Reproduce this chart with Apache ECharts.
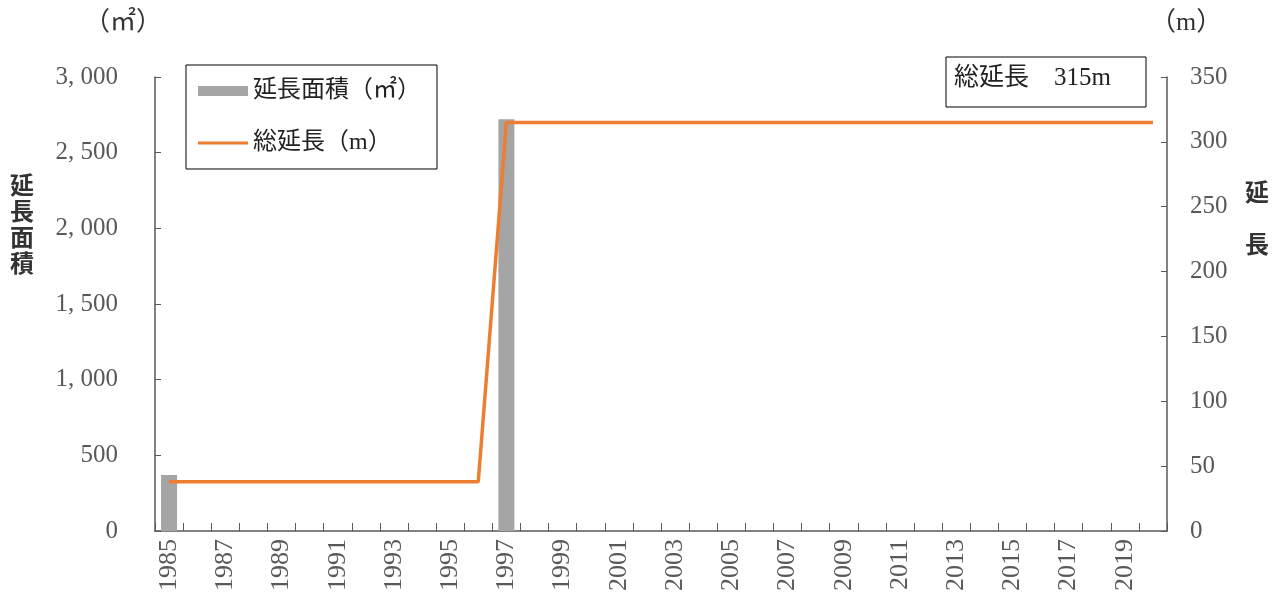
<!DOCTYPE html>
<html>
<head>
<meta charset="utf-8">
<script src="https://cdn.jsdelivr.net/npm/echarts@6/dist/echarts.min.js"></script>
<style>
html,body{margin:0;padding:0;background:#fff;}
#c{width:1282px;height:594px;}
</style>
</head>
<body>
<div id="c"></div>
<script>
const years = [];
for (let y = 1985; y <= 2020; y++) years.push(String(y));
const areaValues = [370,0,0,0,0,0,0,0,0,0,0,0,2720,0,0,0,0,0,0,0,0,0,0,0,0,0,0,0,0,0,0,0,0,0,0,0];
const lengthValues = [38,38,38,38,38,38,38,38,38,38,38,38,315,315,315,315,315,315,315,315,315,315,315,315,315,315,315,315,315,315,315,315,315,315,315,315];
const leftTicks = { min: 0, max: 3000, interval: 500 };
const rightTicks = { min: 0, max: 350, interval: 50 };
const seriesNames = ['延長面積（㎡）', '総延長（m）'];
const boxText = '総延長　315m';

const serif = '"Liberation Serif", "DejaVu Serif", serif';
const mixed = '"Liberation Serif", "Noto Sans CJK JP", serif';
const cjk = '"Noto Sans CJK JP", sans-serif';
const axisGrey = '#595959';

const chart = echarts.init(document.getElementById('c'));
chart.setOption({
  animation: false,
  backgroundColor: '#fff',
  grid: { left: 155, right: 115, top: 77, bottom: 62, containLabel: false },
  legend: {
    left: 186, top: 65, orient: 'vertical',
    padding: [14, 16, 14, 12],
    borderColor: '#000', borderWidth: 1,
    itemWidth: 50, itemHeight: 10, itemGap: 28,
    textStyle: { fontFamily: mixed, fontSize: 24, color: '#222' },
    data: [
      { name: seriesNames[0], icon: 'rect' },
      { name: seriesNames[1], icon: 'path://M0,0H50V3.2H0Z' }
    ]
  },
  xAxis: {
    type: 'category',
    data: years,
    boundaryGap: true,
    axisLine: { lineStyle: { color: axisGrey, width: 1.5 } },
    axisTick: { show: true, inside: true, length: 8, interval: 0, lineStyle: { color: axisGrey } },
    axisLabel: { interval: 1, rotate: 90, margin: 8, fontFamily: serif, fontSize: 26, color: axisGrey }
  },
  yAxis: [
    {
      type: 'value', min: leftTicks.min, max: leftTicks.max, interval: leftTicks.interval,
      splitLine: { show: false },
      axisLine: { show: true, lineStyle: { color: axisGrey, width: 1.5 } },
      axisTick: { show: true, inside: true, length: 6, lineStyle: { color: axisGrey } },
      axisLabel: {
        margin: 37, fontFamily: serif, fontSize: 25, color: axisGrey,
        formatter: v => v.toLocaleString('en-US').replace(',', ', ')
      }
    },
    {
      type: 'value', min: rightTicks.min, max: rightTicks.max, interval: rightTicks.interval,
      position: 'right',
      splitLine: { show: false },
      axisLine: { show: true, lineStyle: { color: axisGrey, width: 1.5 } },
      axisTick: { show: true, inside: true, length: 6, lineStyle: { color: axisGrey } },
      axisLabel: { margin: 23, fontFamily: serif, fontSize: 25, color: axisGrey, align: 'left' }
    }
  ],
  series: [
    {
      name: seriesNames[0], type: 'bar', data: areaValues, yAxisIndex: 0,
      barWidth: 16,
      itemStyle: { color: '#A5A5A5' }
    },
    {
      name: seriesNames[1], type: 'line', data: lengthValues, yAxisIndex: 1,
      symbol: 'none', showSymbol: false,
      lineStyle: { color: '#ED7D31', width: 3.5 },
      itemStyle: { color: '#ED7D31' }
    }
  ],
  graphic: [
    { type: 'text', left: 84, top: 10, style: { text: '（㎡）', font: '26px ' + mixed, fill: '#333' } },
    { type: 'text', left: 1150, top: 10, style: { text: '（m）', font: '26px ' + mixed, fill: '#333' } },
    { type: 'text', left: 10, top: 172, style: { text: '延\n長\n面\n積', font: 'bold 24px ' + cjk, fill: '#333', lineHeight: 26 } },
    { type: 'text', left: 1245, top: 166, style: { text: '延\n長', font: 'bold 24px ' + cjk, fill: '#333', lineHeight: 52 } },
    { type: 'rect', shape: { x: 946, y: 57, width: 200, height: 50 }, style: { fill: '#fff', stroke: '#000', lineWidth: 1 } },
    { type: 'text', left: 954, top: 66, style: { text: boxText, font: '25px ' + mixed, fill: '#222' } }
  ]
});
</script>
</body>
</html>
